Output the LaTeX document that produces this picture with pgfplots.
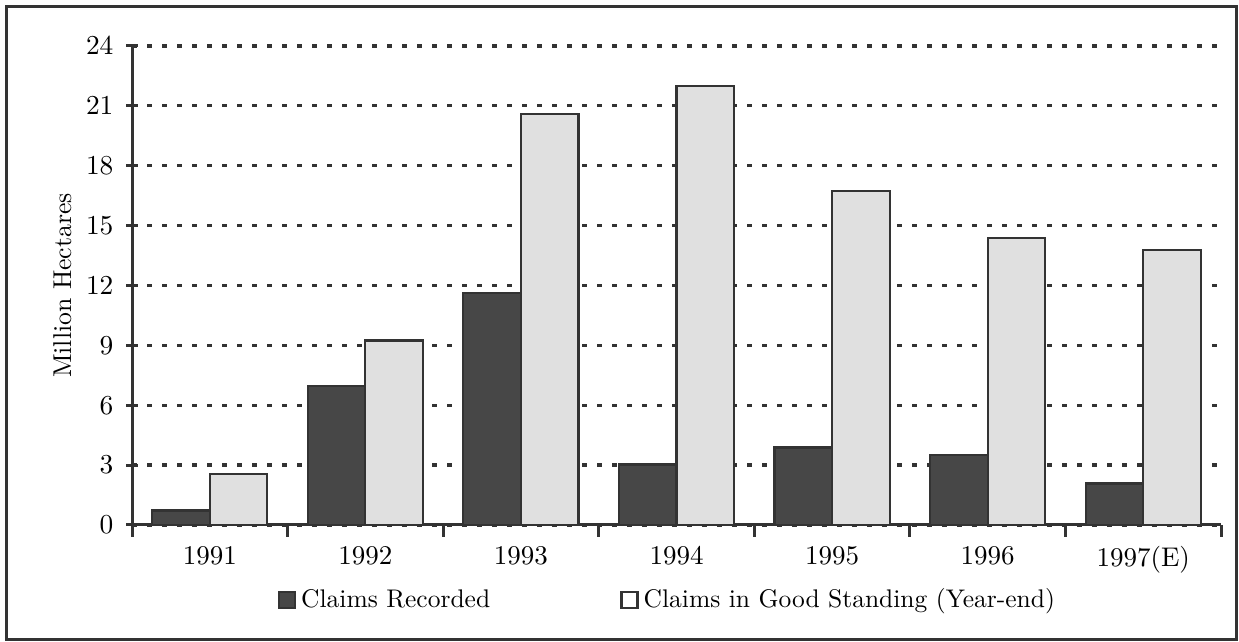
\documentclass[border=0pt]{standalone}
\usepackage{pgfplots}
\pgfplotsset{compat=1.18}
\definecolor{darkbar}{gray}{0.28}
\definecolor{lightbar}{gray}{0.88}
\definecolor{ink}{gray}{0.2}
\begin{document}
\begin{tikzpicture}
\useasboundingbox (-52.8pt,-46.8pt) rectangle (442.8pt,210pt);
\draw[ink, line width=1.2pt] (-50pt,-46pt) rectangle (441.6pt,207.2pt);
\begin{axis}[
    at={(0pt,0pt)}, anchor=south west,
    scale only axis,
    width=435.6pt, height=191.6pt,
    xmin=-0.5, xmax=6.5,
    ymin=0, ymax=24,
    ytick={0,3,...,24},
    xtick={-0.5,0.5,...,6.5},
    xticklabels={},
    extra x ticks={0,1,2,3,4,5,6},
    extra x tick labels={1991,1992,1993,1994,1995,1996,1997(E)},
    extra x tick style={major tick length=0pt, xticklabel style={yshift=-5pt}},
    tick label style={font=\fontsize{10.8}{13}\selectfont},
    yticklabel style={xshift=-1.5pt},
    axis x line=bottom, axis y line=left,
    axis line style={ink, line width=1.2pt, -},
    tick style={ink, line width=1.2pt},
    xtick align=outside, ytick align=center,
    major tick length=4.8pt,
    ymajorgrids,
    grid style={ink, line width=1.3pt, dash pattern=on 1.8pt off 4.2pt},
    ylabel={Million Hectares},
    ylabel style={at={(axis description cs:-0.064,0.5)}, anchor=center,
        font=\fontsize{10.3}{12}\selectfont},
    sq legend/.style={legend image code/.code={
        \draw[##1, line width=1pt] (0pt,-3.2pt) rectangle (6.4pt,3.2pt);}},
    legend columns=2,
    legend style={draw=none, fill=none, font=\fontsize{10.2}{12}\selectfont,
        at={(axis description cs:0.493,-0.157)}, anchor=center,
        /tikz/every even column/.append style={column sep=50pt}},
    bar width=0.37,
]
\addplot[ybar, bar shift=-0.185, fill=darkbar, draw=ink, line width=0.9pt, sq legend]
    coordinates {(0,0.72) (1,6.98) (2,11.63) (3,3.03) (4,3.88) (5,3.5) (6,2.08)};
\addlegendentry{Claims Recorded}
\addplot[ybar, bar shift=0.185, fill=lightbar, draw=ink, line width=0.9pt, sq legend,
    legend image post style={fill=white}]
    coordinates {(0,2.55) (1,9.25) (2,20.58) (3,22.0) (4,16.75) (5,14.38) (6,13.78)};
\addlegendentry{Claims in Good Standing (Year-end)}
\end{axis}
\end{tikzpicture}
\end{document}
